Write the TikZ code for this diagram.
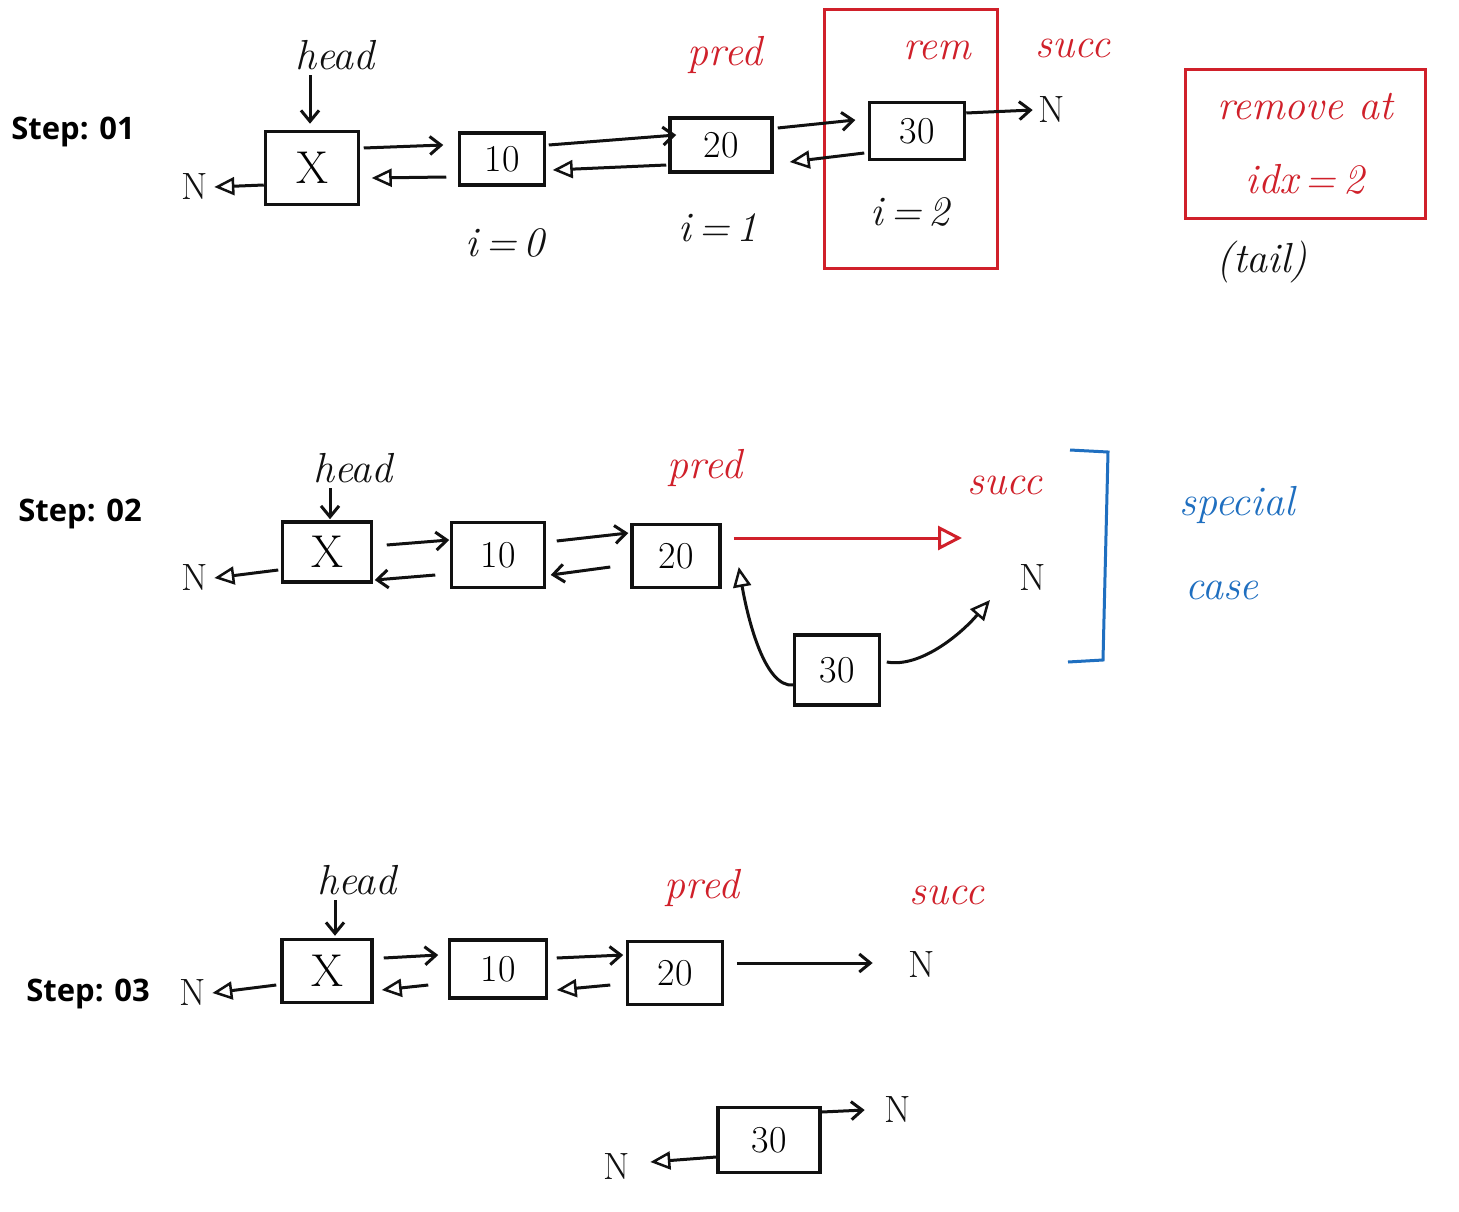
\documentclass[tikz,border=0pt]{standalone}
\usepackage{fontspec}
\newfontfamily\stepfont{Open Sans}
\usetikzlibrary{arrows.meta}
\definecolor{pen}{HTML}{111111}
\definecolor{redpen}{HTML}{D0202A}
\definecolor{bluepen}{HTML}{1F6FC0}
\tikzset{
  listbox/.style={draw=pen, line width=3.5pt, inner sep=0pt, font=\fontsize{38}{42}\selectfont},
  bigx/.style={font=\fontsize{46}{50}\selectfont},
  lbl/.style={font=\fontsize{42}{46}\selectfont\itshape, text=pen},
  redlbl/.style={lbl, text=redpen},
  bluelbl/.style={lbl, text=bluepen},
  nul/.style={font=\fontsize{38}{42}\selectfont, text=pen, inner sep=2pt},
  steplbl/.style={font=\stepfont\bfseries\fontsize{31}{35}\selectfont, text=black},
  fwd/.style={draw=pen, line width=3pt, -{Straight Barb[length=11pt,width=18pt,line width=3pt]}},
  bwd/.style={draw=pen, line width=3pt, -{Triangle[open,length=20pt,width=18pt,line width=2.5pt]}},
  redframe/.style={draw=redpen, line width=3pt, inner sep=0pt},
}
\begin{document}
\begin{tikzpicture}[x=1pt,y=-1pt]
\useasboundingbox[fill=white] (0,0) rectangle (1459,1212);

% ---------------- Step 01 ----------------
\node[steplbl] (s1) at (73,132) {Step: 01};
\node[redframe, minimum width=173pt, minimum height=258pt] (remframe) at (911,139) {};
\node[listbox, bigx, minimum width=93pt, minimum height=73pt] (x1) at (312,168) {X};
\node[listbox, minimum width=85pt, minimum height=52pt] (t1) at (502,159) {10};
\node[listbox, minimum width=102pt, minimum height=54pt] (w1) at (721,145) {20};
\node[listbox, minimum width=95pt, minimum height=57pt] (r1) at (917,131) {30};
\node[lbl] (head1) at (335,55) {head};
\node[redlbl] (pred1) at (725,55) {pred};
\node[redlbl] (rem1) at (937,50) {rem};
\node[redlbl] (succ1) at (1073,48) {succ};
\node[nul] (n1l) at (195,187) {N};
\node[nul] (n1r) at (1052,110) {N};
\node[lbl] (i0) at (505,243) {i\,=\,0};
\node[lbl] (i1) at (718,228) {i\,=\,1};
\node[lbl] (i2) at (910,212) {i\,=\,2};
\node[redframe, minimum width=240pt, minimum height=148pt, text=redpen, align=center,
      font=\fontsize{42}{74}\selectfont\itshape] (remove) at (1305,144) {remove at\\idx\,=\,2};
\node[lbl] (tail) at (1262,262) {(tail)};

\draw[fwd] ([shift={(-25,2)}]head1.south) -- ([shift={(-2,-6)}]x1.north);
\draw[bwd] ([shift={(0,17)}]x1.west) -- ([shift={(4,0)}]n1l.east);
\draw[fwd] ([shift={(3.5,-20)}]x1.east) -- ([shift={(-14.5,-14)}]t1.west);
\draw[bwd] ([shift={(-11.5,18)}]t1.west) -- ([shift={(11.5,10)}]x1.east);
\draw[fwd] ([shift={(2.5,-14)}]t1.east) -- ([shift={(8,-10)}]w1.west);
\draw[bwd] ([shift={(-2,20)}]w1.west) -- ([shift={(6.5,11)}]t1.east);
\draw[fwd] ([shift={(4,-17)}]w1.east) -- ([shift={(-12.5,-11)}]r1.west);
\draw[bwd] ([shift={(-3.5,22)}]r1.west) -- ([shift={(16,17)}]w1.east);
\draw[fwd] ([shift={(0,-18)}]r1.east) -- ([shift={(-4,0)}]n1r.west);

% ---------------- Step 02 ----------------
\node[steplbl] (s2) at (80,514) {Step: 02};
\node[listbox, bigx, minimum width=89pt, minimum height=60pt] (x2) at (327,552) {X};
\node[listbox, minimum width=93pt, minimum height=65pt] (t2) at (498,555) {10};
\node[listbox, minimum width=88pt, minimum height=63pt] (w2) at (676,556) {20};
\node[listbox, minimum width=85pt, minimum height=70pt] (s30) at (837,670) {30};
\node[lbl] (head2) at (353,468) {head};
\node[redlbl] (pred2) at (705,468) {pred};
\node[redlbl] (succ2) at (1005,485) {succ};
\node[nul] (n2l) at (195,578) {N};
\node[nul] (n2r) at (1033,578) {N};
\node[bluelbl] (spec) at (1237,505) {special};
\node[bluelbl] (case) at (1222,590) {case};
\coordinate (redend) at (962,538);
\coordinate (n2tip) at (990,600);

\draw[fwd] ([shift={(-23,2)}]head2.south) -- ([shift={(3,-1)}]x2.north);
\draw[bwd] ([shift={(-2.5,18)}]x2.west) -- ([shift={(4,0)}]n2l.east);
\draw[fwd] ([shift={(13.5,-7)}]x2.east) -- ([shift={(-0.5,-15)}]t2.west);
\draw[fwd] ([shift={(-14.5,20)}]t2.west) -- ([shift={(1.5,28)}]x2.east);
\draw[fwd] ([shift={(10.5,-14)}]t2.east) -- ([shift={(-2,-23)}]w2.west);
\draw[fwd] ([shift={(-20,11)}]w2.west) -- ([shift={(4.5,20)}]t2.east);
\draw[draw=redpen, line width=3pt, -{Triangle[open,length=24pt,width=24pt,line width=3pt]}]
  ([shift={(12,-18)}]w2.east) -- (redend);
\draw[bwd] ([shift={(0.5,15)}]s30.west) .. controls (765,688) and (748,620) .. ([shift={(17,11)}]w2.east);
\draw[bwd] ([shift={(5.5,-8)}]s30.east) .. controls (920,668) and (960,635) .. (n2tip);
\draw[draw=bluepen, line width=3pt] (1070,450) -- (1108,452) -- (1103,660) -- (1068,662);

% ---------------- Step 03 ----------------
\node[steplbl] (s3) at (88,994) {Step: 03};
\node[listbox, bigx, minimum width=90pt, minimum height=63pt] (x3) at (327,971) {X};
\node[listbox, minimum width=97pt, minimum height=58pt] (t3) at (498,969) {10};
\node[listbox, minimum width=95pt, minimum height=63pt] (w3) at (675,973) {20};
\node[listbox, minimum width=102pt, minimum height=65pt] (b30) at (769,1140) {30};
\node[lbl] (head3) at (357,880) {head};
\node[redlbl] (pred3) at (702,888) {pred};
\node[redlbl] (succ3) at (947,895) {succ};
\node[nul] (n3l) at (193,993) {N};
\node[nul] (n3r) at (922,965) {N};
\node[nul] (n3b) at (898,1110) {N};
\node[nul] (n3c) at (617,1167) {N};

\draw[fwd] ([shift={(-22,2)}]head3.south) -- ([shift={(8,-2)}]x3.north);
\draw[bwd] ([shift={(-4,14)}]x3.west) -- ([shift={(4,0)}]n3l.east);
\draw[fwd] ([shift={(10,-13)}]x3.east) -- ([shift={(-9.5,-14)}]t3.west);
\draw[bwd] ([shift={(-19.5,16)}]t3.west) -- ([shift={(8,19)}]x3.east);
\draw[fwd] ([shift={(8.5,-11)}]t3.east) -- ([shift={(-2.5,-18)}]w3.west);
\draw[bwd] ([shift={(-15.5,12)}]w3.west) -- ([shift={(8.5,21)}]t3.east);
\draw[fwd] ([shift={(12.5,-10)}]w3.east) -- ([shift={(-34,-2)}]n3r.west);
\draw[fwd] ([shift={(0,-28)}]b30.east) -- ([shift={(-18,0)}]n3b.west);
\draw[bwd] ([shift={(0,17)}]b30.west) -- ([shift={(18,-5)}]n3c.east);
\end{tikzpicture}
\end{document}
